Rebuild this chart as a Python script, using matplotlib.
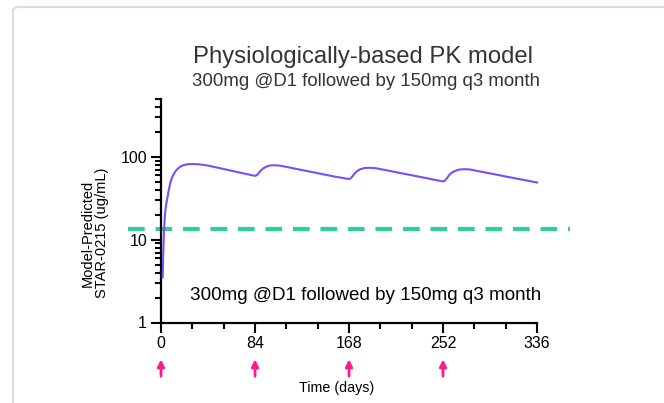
import matplotlib.pyplot as plt
import matplotlib.ticker as mticker
from matplotlib.patches import FancyBboxPatch

plt.rcParams['font.family'] = ['Liberation Sans', 'DejaVu Sans']

# simulated concentration (days, ug/mL)
days = [1.5, 2.0, 2.7, 3.5, 4.5, 5.5, 7, 8.5, 10, 12, 14, 17, 20, 24, 28, 34, 42,
        50, 60, 70, 78, 84,
        85.5, 87, 89, 91, 94, 97, 101, 106, 115, 125, 135, 145, 155, 168,
        169.5, 171, 173, 175, 178, 182, 186, 192, 200, 210, 220, 230, 240, 252,
        253.5, 255, 257, 259, 262, 266, 270, 276, 285, 295, 305, 315, 325, 336]
conc = [3.5, 7, 13, 20, 26, 31, 40, 50, 57, 64, 70, 76, 79.5, 81.5, 82, 81.3, 78.5,
        74.3, 69.4, 64.8, 61.4, 59,
        60, 63, 68, 72, 76, 78.5, 79.3, 78.5, 74.3, 69.8, 65.6, 61.6, 57.9, 54,
        55, 58, 63, 67, 71, 73.4, 73.8, 73, 69.5, 65.4, 61.5, 57.9, 54.4, 50.5,
        51.5, 54, 59, 63, 67, 70, 71, 70.5, 66.7, 62.8, 59.1, 55.6, 52.4, 49]
threshold = 13.5
dose_days = [0, 84, 168, 252]
x_ticks = [0, 84, 168, 252, 336]
regimen = "300mg @D1 followed by 150mg q3 month"

W, H = 664, 403
fig = plt.figure(figsize=(W / 100, H / 100), dpi=100)

# card frame
card = FancyBboxPatch((13 / W, -0.1), 1.2, 1 - 7 / H + 0.1,
                      boxstyle="round,pad=0,rounding_size=0.01",
                      transform=fig.transFigure, facecolor='white',
                      edgecolor='#dcdcdc', lw=1.5, zorder=-5)
fig.patches.append(card)

# axes is wider than the drawn axis so the threshold line can run past it
ax = fig.add_axes([128 / W, 1 - 322.5 / H, 442 / W, 223.5 / H])
ax.patch.set_alpha(0)

ax.plot(days, conc, color='#7a4cff', lw=1.5, zorder=3)
ax.axhline(threshold, color='#2dcf9c', lw=3, dashes=(4, 2.6), zorder=2)

ax.set_yscale('log')
ax.set_ylim(1, 500)
ax.set_xlim(-29.5, 365.5)
ax.yaxis.set_major_locator(mticker.FixedLocator([1, 10, 100]))
ax.yaxis.set_major_formatter(mticker.FixedFormatter(['1', '10', '100']))
ax.yaxis.set_minor_locator(mticker.LogLocator(subs=range(2, 10), numticks=20))
ax.yaxis.set_minor_formatter(mticker.NullFormatter())
ax.set_xticks(x_ticks)
ax.set_xticks(range(28, 336, 28), minor=True)

for side in ['top', 'right']:
    ax.spines[side].set_visible(False)
for side in ['left', 'bottom']:
    ax.spines[side].set_linewidth(1.6)
    ax.spines[side].set_color('black')
ax.spines['left'].set_position(('data', 0))
ax.spines['bottom'].set_bounds(0, 336)
ax.tick_params(which='major', length=7, width=1.5, labelsize=11.5, pad=3,
               colors='black')
ax.tick_params(which='minor', length=4.5, width=1.5)

ax.set_ylabel("Model-Predicted\nSTAR-0215 (ug/mL)", fontsize=10.5,
              labelpad=8, y=0.4, linespacing=1.1)

# dosing arrows
for d in dose_days:
    ax.annotate("", xy=(d, -0.165), xytext=(d, -0.24),
                xycoords=ax.get_xaxis_transform(),
                arrowprops=dict(arrowstyle='-|>', color='#ff1a8c', lw=2,
                                mutation_scale=10, shrinkA=0, shrinkB=0),
                annotation_clip=False)

fig.text(337 / W, 1 - 388 / H, "Time (days)", ha='center', va='center',
         fontsize=10.3)
fig.text(366 / W, 1 - 295 / H, regimen, ha='center', va='center',
         fontsize=13.6)
fig.text(363 / W, 1 - 57 / H, "Physiologically-based PK model", ha='center',
         va='center', fontsize=17.2, color='#333333')
fig.text(365.5 / W, 1 - 82 / H, regimen, ha='center', va='center',
         fontsize=13.4, color='#333333')

fig.savefig('out.png', dpi=100)
